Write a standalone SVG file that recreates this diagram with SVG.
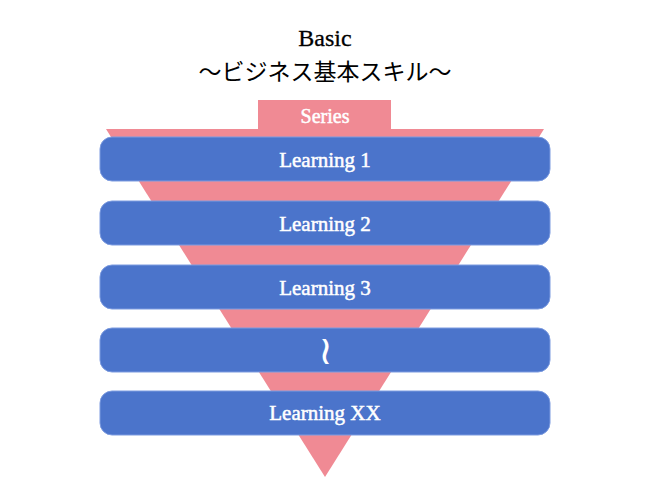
<svg xmlns="http://www.w3.org/2000/svg" width="650" height="500" viewBox="0 0 650 500">
<style>
.box{fill:#4B74CB;stroke:#7C9BE0;stroke-width:1}
.lbl{font-family:"Liberation Serif","DejaVu Serif",serif;font-size:21px;fill:#ffffff;stroke:#ffffff;stroke-width:0.5;text-anchor:middle;dominant-baseline:central}
.title{font-family:"Liberation Serif","Noto Sans CJK JP",serif;font-size:24px;fill:#000000;stroke:#000000;stroke-width:0.3;text-anchor:middle}
.pink{fill:#F08A94}
</style>
<rect width="650" height="500" fill="#ffffff"/>
<g id="title">
<text class="title" x="325" y="46">Basic</text>
<text class="title" x="325" y="80" style="font-family:'Noto Sans CJK JP',sans-serif;font-size:23px;stroke-width:0">〜ビジネス基本スキル〜</text>
</g>
<g id="funnel">
<polygon class="pink" points="106,129 544,129 325,477"/>
<rect class="pink" x="258" y="100" width="133" height="30"/>
<text class="lbl" x="325" y="116" style="font-size:20px">Series</text>
</g>
<g id="n1"><rect class="box" x="100" y="137" width="450" height="44" rx="12"/><text class="lbl" x="325" y="160">Learning 1</text></g>
<g id="n2"><rect class="box" x="100" y="201" width="450" height="44" rx="12"/><text class="lbl" x="325" y="224">Learning 2</text></g>
<g id="n3"><rect class="box" x="100" y="265" width="450" height="44" rx="12"/><text class="lbl" x="325" y="288">Learning 3</text></g>
<g id="n4"><rect class="box" x="100" y="328" width="450" height="44" rx="12"/><text class="lbl" x="325" y="350" style="font-family:'DejaVu Serif',serif;font-size:40px;stroke-width:0">≀</text></g>
<g id="n5"><rect class="box" x="100" y="391" width="450" height="44" rx="12"/><text class="lbl" x="325" y="413">Learning XX</text></g>
<g id="connectors"></g>
</svg>
